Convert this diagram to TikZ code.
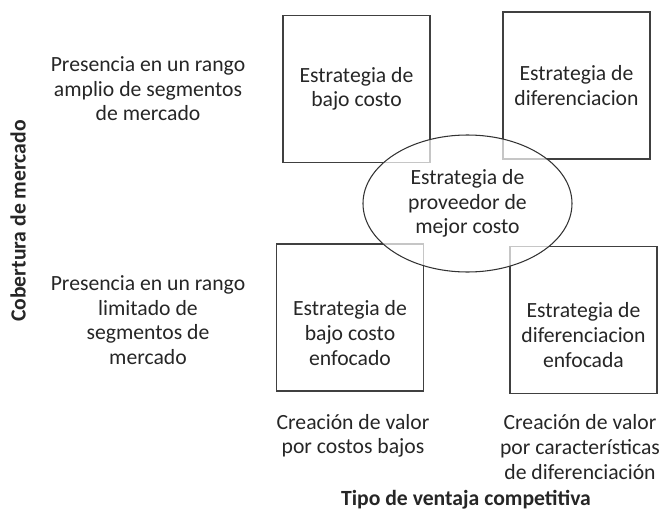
\documentclass[tikz,border=0pt]{standalone}
\usepackage{fontspec}
\setmainfont{Carlito}
\usetikzlibrary{shapes.geometric}

\begin{document}
\begin{tikzpicture}[x=0.03cm,y=-0.03cm,
  every node/.style={align=center,text=black!85,font=\fontsize{18.5}{21}\selectfont},
  cuadro/.style={draw=black!75,line width=1.3pt,minimum width=4.41cm,minimum height=4.41cm},
  ovalo/.style={ellipse,draw=black!80,line width=0.9pt,fill=white,fill opacity=0.7,text opacity=1,inner sep=0pt,minimum width=6.27cm,minimum height=4.11cm},
  eje/.style={font=\fontsize{18.5}{21}\selectfont\bfseries}]
\useasboundingbox (0,0) rectangle (660,529);

% cuadrantes
\node[cuadro] (bc) at (356.5,89) {};
\node[cuadro] (dif) at (576.5,85.5) {};
\node[cuadro] (bce) at (350,317.5) {};
\node[cuadro] (dife) at (583.5,320) {};

\node (bc-t) at (bc.center) {Estrategia de\\bajo costo};
\node (dif-t) at (dif.center) {Estrategia de\\diferenciacion};
\node (bce-t) at (350,333) {Estrategia de\\bajo costo\\enfocado};
\node (dife-t) at (583.5,335) {Estrategia de\\diferenciacion\\enfocada};

\node[ovalo] (mejor) at (467.5,203.5) {Estrategia de\\proveedor de\\mejor costo};

% filas
\node (amplio) at (148,89) {Presencia en un rango\\amplio de segmentos\\de mercado};
\node (limitado) at (148,320) {Presencia en un rango\\limitado de\\segmentos de\\mercado};

% columnas
\node (costos) at (353,436) {Creación de valor\\por costos bajos};
\node (caract) at (580,447) {Creación de valor\\por características\\de diferenciación};

% ejes
\node[eje,rotate=90] (cobertura) at (18,221) {Cobertura de mercado};
\node[eje] (ventaja) at (466,500) {Tipo de ventaja competitiva};

\end{tikzpicture}
\end{document}
